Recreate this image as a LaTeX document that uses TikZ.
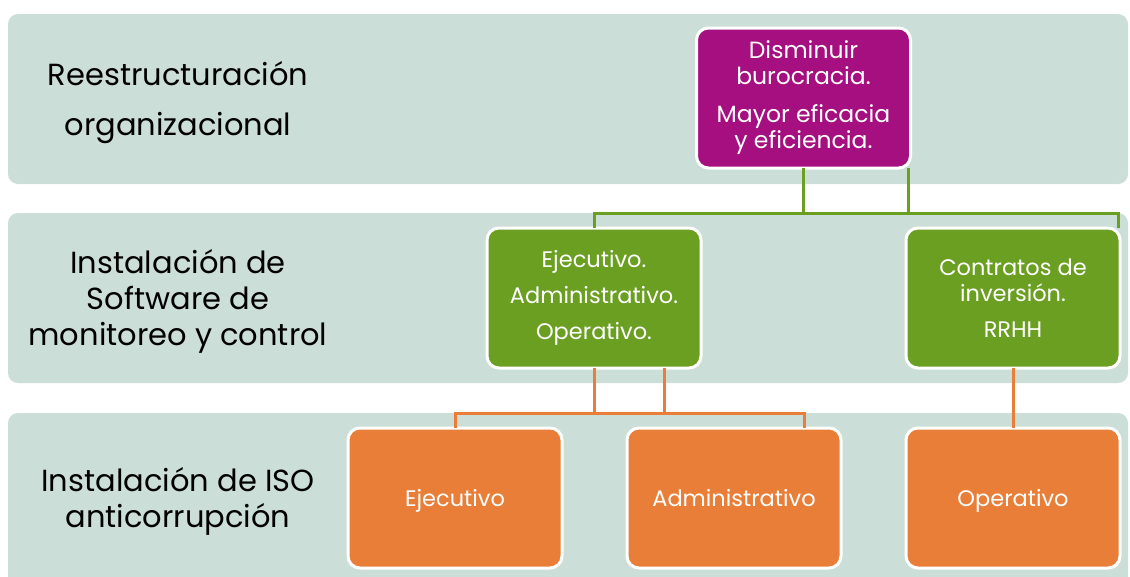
\documentclass[tikz,border=0pt]{standalone}
\usepackage{fontspec}
\setmainfont{Poppins}
\usepackage{xcolor}
\usetikzlibrary{positioning}

\definecolor{bandgray}{HTML}{CCDED8}
\definecolor{magbox}{HTML}{A50F7F}
\definecolor{grnbox}{HTML}{6A9F21}
\definecolor{orgbox}{HTML}{E97E38}

\begin{document}
\begin{tikzpicture}[
    x=1pt, y=-1pt,
    band/.style={fill=bandgray, rounded corners=10pt},
    lvl/.style={align=center, text=black, font=\fontsize{30.5}{36}\selectfont},
    box/.style={rectangle, rounded corners=12pt, draw=white, line width=3pt, fill=#1, minimum width=214pt, minimum height=140pt, outer sep=0pt, align=center, text=white, font=\fontsize{22.5}{26}\selectfont},
    box/.default={grnbox},
    leaf/.style={box=orgbox, text height=22pt, text depth=5pt},
    gline/.style={grnbox, line width=3pt},
    oline/.style={orgbox, line width=3pt}
]
\useasboundingbox (0,0) rectangle (1130,576);
\clip (0,0) rectangle (1130,576);

% bands
\fill[band] (8,14) rectangle (1128,184);
\fill[band] (8,213) rectangle (1128,383);
\fill[band] (8,413) rectangle (1128,600);

\node[lvl] (l1) at (178,103) {Reestructuración\\[14pt]organizacional};
\node[lvl] (l2) at (178,301) {Instalación de\\Software de\\monitoreo y control};
\node[lvl] (l3) at (178,501) {Instalación de ISO\\anticorrupción};

% boxes
\node[box=magbox, font=\fontsize{23.5}{26}\selectfont] (mag) at (803.5,98) {Disminuir\\burocracia.\\[12pt]Mayor eficacia\\y eficiencia.};
\node[leaf] (o1) at (455,498) {Ejecutivo};
\node[leaf, right=65pt of o1] (o2) {Administrativo};
\node[leaf, right=65pt of o2] (o3) {Operativo};
\node[box] (g1) at (594,298) {Ejecutivo.\\[10pt]Administrativo.\\[10pt]Operativo.};
\node[box, above=60pt of o3] (g2) {Contratos de\\inversión.\\[10pt]RRHH};

% connectors
\coordinate (gbus) at (0,213);
\coordinate (obus) at (0,413);

\draw[gline] (mag.south) -- (mag.south |- gbus);
\draw[gline] ([xshift=-2pt]mag.south east) -- ([xshift=-2pt]mag.south east |- gbus);
\draw[gline] (g1.north) -- (g1.north |- gbus) -- ([xshift=-2pt]g2.north east |- gbus) -- ([xshift=-2pt]g2.north east);

\draw[oline] (g1.south) -- (g1.south |- obus);
\draw[oline] ([xshift=70pt]g1.south) -- ([xshift=70pt]g1.south |- obus);
\draw[oline] (o1.north) -- (o1.north |- obus) -- ([xshift=70pt]o2.north |- obus) -- ([xshift=70pt]o2.north);
\draw[oline] (g2.south) -- (o3.north);

\end{tikzpicture}
\end{document}
